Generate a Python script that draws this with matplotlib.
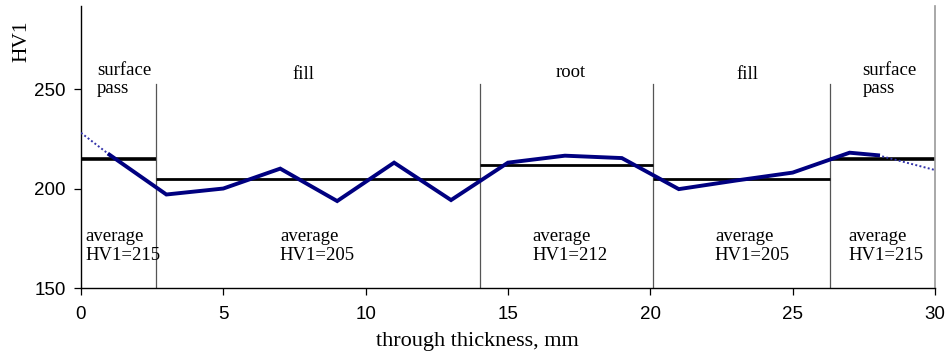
import matplotlib.pyplot as plt

# hardness traverse, HV1 vs. depth through the weld
depth = [1, 3, 5, 7, 9, 11, 13, 15, 17, 19, 21, 23, 25, 27, 28]
hv1 = [217, 197, 200, 210, 193.7, 213, 194.2, 213, 216.5, 215.3, 199.7, 204, 208, 218, 216.7]

# trend extrapolation to the plate surfaces
trend_left_x = [0, 1]
trend_left_y = [228, 217]
trend_right_x = [28, 30]
trend_right_y = [216.7, 209.3]

# weld zones: boundaries, names and average hardness
zone_edges = [0, 2.63, 14.03, 20.08, 26.33, 30]
zone_names = ['surface\npass', 'fill', 'root', 'fill', 'surface\npass']
zone_avg = [215, 205, 212, 205, 215]

plt.rcParams['font.family'] = ['Liberation Serif', 'DejaVu Serif']

fig = plt.figure(figsize=(9.47, 3.53), dpi=100)
ax = fig.add_axes([0.0855, 0.184, 0.9018, 0.799])

navy = '#000080'

# zone dividers
for xb in zone_edges[1:-1]:
    ax.plot([xb, xb], [150, 252.5], color='#555555', lw=0.9, zorder=1)

# average hardness per zone
for i, avg in enumerate(zone_avg):
    lw = 2.6 if i in (0, 4) else 2.0
    ax.plot([zone_edges[i], zone_edges[i + 1]], [avg, avg], color='black', lw=lw,
            solid_capstyle='butt', zorder=2)

ax.plot(trend_left_x, trend_left_y, color='#3333aa', lw=1.4, ls=(0, (1, 1.2)), zorder=3)
ax.plot(trend_right_x, trend_right_y, color='#3333aa', lw=1.4, ls=(0, (1, 1.2)), zorder=3)
ax.plot(depth, hv1, color=navy, lw=2.8, solid_joinstyle='miter', zorder=4)

# zone labels
name_pos = [(0.56, 'left', 263.5), (7.8, 'center', 261.5), (17.2, 'center', 262.5),
            (23.4, 'center', 261.5), (27.45, 'left', 263.5)]
for (xp, ha, yp), name in zip(name_pos, zone_names):
    ax.text(xp, yp, name, ha=ha, va='top', fontsize=13.5, linespacing=1.1)

avg_x = [0.14, 6.99, 15.86, 22.27, 26.95]
for xp, avg in zip(avg_x, zone_avg):
    ax.text(xp, 180, f'average\nHV1={avg}', ha='left', va='top', fontsize=13.5, linespacing=1.1)

ax.set_xlim(0, 30)
ax.set_ylim(150, 291.7)
ax.set_xticks([0, 5, 10, 15, 20, 25, 30])
ax.set_yticks([150, 200, 250])
for lbl in ax.get_xticklabels() + ax.get_yticklabels():
    lbl.set_family('Liberation Sans')
ax.tick_params(axis='both', direction='out', length=5, width=0.9, labelsize=13.5)
ax.tick_params(axis='x', pad=8)
ax.tick_params(axis='y', pad=6)

ax.spines['top'].set_visible(False)
ax.spines['right'].set_color('#999999')
ax.spines['right'].set_linewidth(1.2)
ax.spines['left'].set_linewidth(1.0)
ax.spines['bottom'].set_linewidth(1.0)

ax.set_xlabel('through thickness, mm', fontsize=16)
ax.xaxis.set_label_coords(0.464, -0.155)
ax.set_ylabel('HV1', fontsize=15.5)
ax.yaxis.set_label_coords(-0.058, 0.875)

fig.savefig('out.png', dpi=100)
